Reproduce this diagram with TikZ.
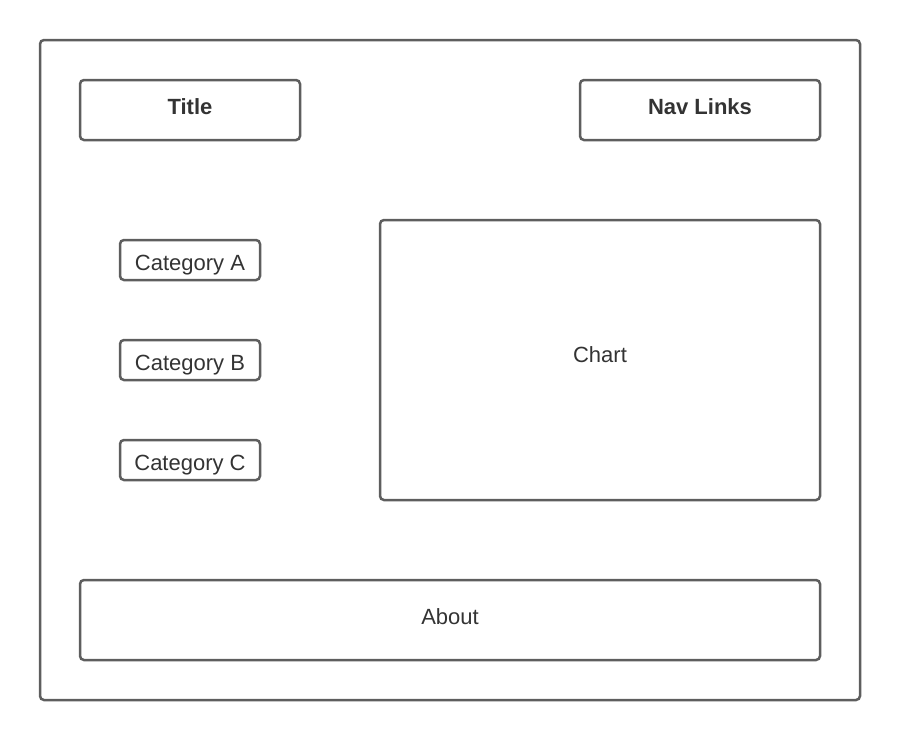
\documentclass[tikz,border=0pt]{standalone}
\usepackage{fontspec}
\setmainfont{Liberation Sans}
\usetikzlibrary{positioning}
\definecolor{BoxClr}{rgb}{0.37,0.37,0.37}
\definecolor{TextClr}{rgb}{0.2,0.2,0.2}

\begin{document}
\begin{tikzpicture}[x=1pt,y=-1pt,
  panel/.style={draw=BoxClr,line width=2.5pt,rounded corners=4pt,text=TextClr,
    font=\fontsize{22}{24}\selectfont,inner sep=0pt,text height=16pt,text depth=8pt},
  heading/.style={panel,font=\fontsize{22}{24}\selectfont\bfseries},
  catbox/.style={panel,minimum width=140pt,minimum height=40pt,text height=20.5pt,text depth=0pt}]
\useasboundingbox (0,0) rectangle (900,740);

\node[panel,minimum width=820pt,minimum height=660pt] (page) at (450,370) {};

\node[heading,minimum width=220pt,minimum height=60pt] (title) at (190,110) {Title};
\node[heading,minimum width=240pt,minimum height=60pt] (nav) at (700,110) {Nav Links};

\node[catbox] (catA) at (190,260) {Category A};
\node[catbox,below=57.5pt of catA] (catB) {Category B};
\node[catbox,below=57.5pt of catB] (catC) {Category C};

\node[panel,minimum width=440pt,minimum height=280pt,text height=14pt,text depth=10pt] (chart) at (600,360) {Chart};

\node[panel,minimum width=740pt,minimum height=80pt] (about) at (450,620) {About};

\end{tikzpicture}
\end{document}
